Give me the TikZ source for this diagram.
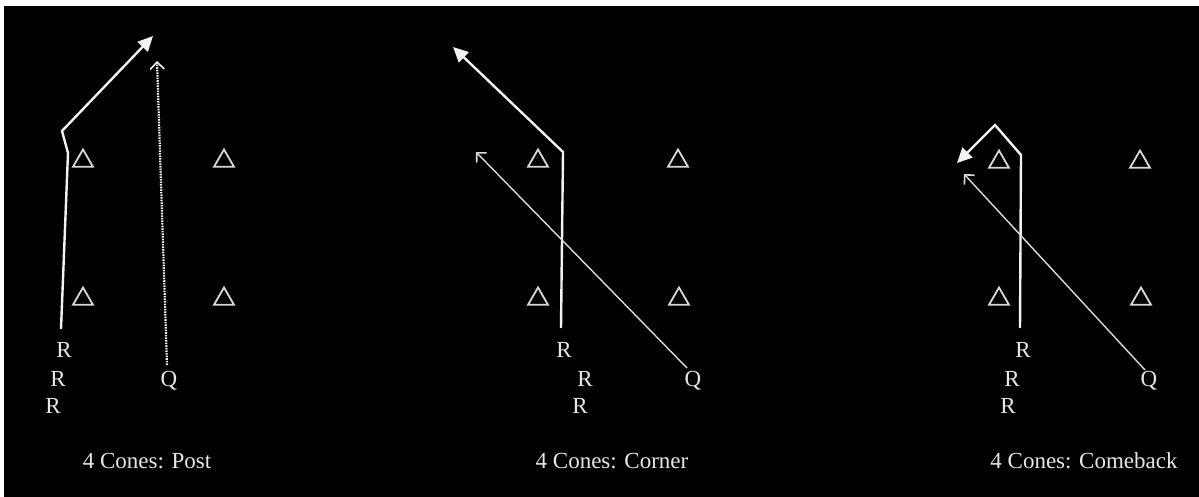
\documentclass[tikz,border=0pt]{standalone}
\usepackage{fontspec}
\setmainfont{Liberation Serif}
\usetikzlibrary{arrows.meta,shapes.geometric}
\definecolor{ink}{HTML}{F2F2F2}
\definecolor{cone}{HTML}{D8D8D8}
\definecolor{txt}{HTML}{E6E6E6}
\begin{document}
\begin{tikzpicture}[x=1pt,y=-1pt,
  lbl/.style={text=txt,font=\fontsize{23}{27}\selectfont,inner sep=0pt},
  conemark/.style={draw=cone,line width=1.8pt,regular polygon,regular polygon sides=3,minimum size=23pt,inner sep=0pt},
  route/.style={draw=ink,line width=2.4pt,line join=miter,-{Triangle[length=15pt,width=14pt]}},
  pass/.style={draw=ink!90!black,line width=1.4pt,-{Straight Barb[length=7pt,width=14pt,line width=1.6pt]}},
  dotpass/.style={draw=ink,line width=2.2pt,dash pattern=on 1.6pt off 1pt,-{Straight Barb[length=7pt,width=14pt,line width=1.6pt,sep=0pt]}}]
\useasboundingbox (0,0) rectangle (1199,497);
\fill[white] (0,0) rectangle (1199,497);
\fill[black] (4,6) rectangle (1199,497);
% ---------- Post ----------
\node[conemark] (p1) at (83,161) {};
\node[conemark] (p2) at (224,161) {};
\node[conemark] (p3) at (83,299) {};
\node[conemark] (p4) at (224,299) {};
\node[lbl] (pr1) at (64,350) {R};
\node[lbl] (pr2) at (58,379) {R};
\node[lbl] (pr3) at (53,406) {R};
\node[lbl] (pq) at (169,381) {Q};
\node[lbl] (pt) at (147,461) {4 Cones: Post};
\coordinate (ps) at (61,329);
\coordinate (pk1) at (68,153);
\coordinate (pk2) at (62,131);
\coordinate (pe) at (153,36);
\draw[route] (ps) -- (pk1) -- (pk2) -- (pe);
\coordinate (pqs) at (167,365);
\coordinate (pqe) at (157,61);
\draw[dotpass] (pqs) -- (pqe);
% ---------- Corner ----------
\node[conemark] (c1) at (538,161) {};
\node[conemark] (c2) at (678,161) {};
\node[conemark] (c3) at (538,299) {};
\node[conemark] (c4) at (679,299) {};
\node[lbl] (cr1) at (564,350) {R};
\node[lbl] (cr2) at (585,379) {R};
\node[lbl] (cr3) at (580,406) {R};
\node[lbl] (cq) at (693,381) {Q};
\node[lbl] (ct) at (612,461) {4 Cones: Corner};
\coordinate (cs) at (561,328);
\coordinate (ck) at (563,152);
\coordinate (ce) at (453,47);
\draw[route] (cs) -- (ck) -- (ce);
\coordinate (cqs) at (687,368);
\coordinate (cqe) at (476,152);
\draw[pass] (cqs) -- (cqe);
% ---------- Comeback ----------
\node[conemark] (b1) at (999,162) {};
\node[conemark] (b2) at (1140,162) {};
\node[conemark] (b3) at (999,299) {};
\node[conemark] (b4) at (1141,299) {};
\node[lbl] (br1) at (1023,350) {R};
\node[lbl] (br2) at (1012,379) {R};
\node[lbl] (br3) at (1008,406) {R};
\node[lbl] (bq) at (1149,381) {Q};
\node[lbl] (bt) at (1084,461) {4 Cones: Comeback};
\coordinate (bs) at (1020,328);
\coordinate (bk1) at (1021,155);
\coordinate (bk2) at (995,125);
\coordinate (be) at (957,163);
\draw[route] (bs) -- (bk1) -- (bk2) -- (be);
\coordinate (bqs) at (1145,370);
\coordinate (bqe) at (964,174);
\draw[pass] (bqs) -- (bqe);
\end{tikzpicture}
\end{document}
